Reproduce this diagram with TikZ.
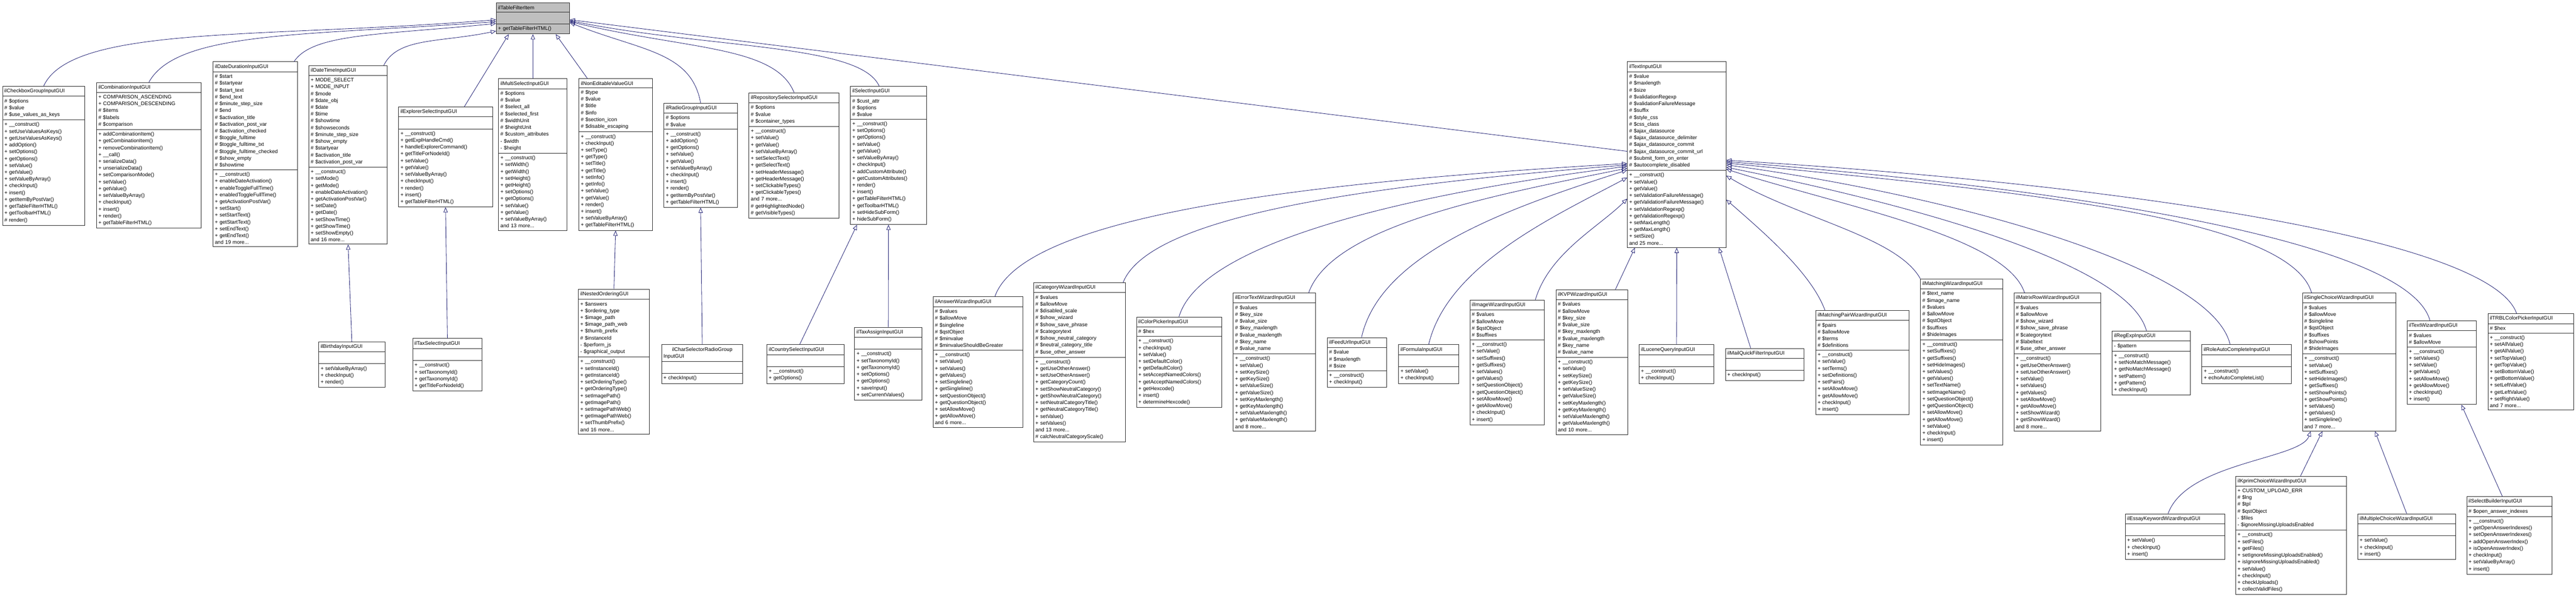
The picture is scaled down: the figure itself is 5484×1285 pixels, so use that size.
\documentclass[tikz,border=0pt]{standalone}
\usepackage{fontspec}
\setmainfont{Liberation Sans}
\usetikzlibrary{shapes.multipart,arrows.meta,calc}
\definecolor{edgeblue}{HTML}{191970}
\definecolor{basegray}{HTML}{BFBFBF}
\newcommand\Mp[1]{+~#1()}
\newcommand\Mh[1]{\#~#1()}
\newcommand\Ah[1]{\#~\$#1}
\newcommand\Ap[1]{+~\$#1}
\newcommand\Am[1]{-~\$#1}
\newcommand\more[1]{and~#1~more...}
\newcommand\ucls[8][]{\node[ucls,text width=#5pt-8pt,#1] (#2) at (#3,#4) {\centering #6\nodepart{two}#7\nodepart{three}#8};}
\begin{document}
\begin{tikzpicture}[x=1pt,y=-1pt,
  ucls/.style={rectangle split,rectangle split parts=3,draw=black!85,line width=1pt,fill=white,
    anchor=north west,font=\fontsize{11}{14.5}\selectfont,inner xsep=4pt,inner ysep=5pt,align=left},
  inh/.style={draw=edgeblue,line width=0.9pt,-{Triangle[open,length=11pt,width=9pt]}}]
\useasboundingbox[fill=white] (0,0) rectangle (5484,1285);
% base
\ucls[fill=basegray]{tfi}{1056}{6}{156}{ilTableFilterItem}{\strut}{\Mp{getTableFilterHTML}}
% row 1
\ucls{cbg}{5}{183}{175}{ilCheckboxGroupInputGUI}{\Ah{options}\\\Ah{value}\\\Ah{use\_values\_as\_keys}}{\Mp{\_\_construct}\\\Mp{setUseValuesAsKeys}\\\Mp{getUseValuesAsKeys}\\\Mp{addOption}\\\Mp{setOptions}\\\Mp{getOptions}\\\Mp{setValue}\\\Mp{getValue}\\\Mp{setValueByArray}\\\Mp{checkInput}\\\Mp{insert}\\\Mp{getItemByPostVar}\\\Mp{getTableFilterHTML}\\\Mp{getToolbarHTML}\\\Mh{render}}
\ucls{comb}{205}{175}{223}{ilCombinationInputGUI}{+~COMPARISON\_ASCENDING\\+~COMPARISON\_DESCENDING\\\Ah{items}\\\Ah{labels}\\\Ah{comparison}}{\Mp{addCombinationItem}\\\Mp{getCombinationItem}\\\Mp{removeCombinationItem}\\\Mp{\_\_call}\\\Mp{serializeData}\\\Mp{unserializeData}\\\Mp{setComparisonMode}\\\Mp{setValue}\\\Mp{getValue}\\\Mp{setValueByArray}\\\Mp{checkInput}\\\Mp{insert}\\\Mp{render}\\\Mp{getTableFilterHTML}}
\ucls{dd}{453}{131}{180}{ilDateDurationInputGUI}{\Ah{start}\\\Ah{startyear}\\\Ah{start\_text}\\\Ah{end\_text}\\\Ah{minute\_step\_size}\\\Ah{end}\\\Ah{activation\_title}\\\Ah{activation\_post\_var}\\\Ah{activation\_checked}\\\Ah{toggle\_fulltime}\\\Ah{toggle\_fulltime\_txt}\\\Ah{toggle\_fulltime\_checked}\\\Ah{show\_empty}\\\Ah{showtime}}{\Mp{\_\_construct}\\\Mp{enableDateActivation}\\\Mp{enableToggleFullTime}\\\Mp{enabledToggleFullTime}\\\Mp{getActivationPostVar}\\\Mp{setStart}\\\Mp{setStartText}\\\Mp{getStartText}\\\Mp{setEndText}\\\Mp{getEndText}\\\more{19}}
\ucls{dt}{657}{139}{167}{ilDateTimeInputGUI}{+~MODE\_SELECT\\+~MODE\_INPUT\\\Ah{mode}\\\Ah{date\_obj}\\\Ah{date}\\\Ah{time}\\\Ah{showtime}\\\Ah{showseconds}\\\Ah{minute\_step\_size}\\\Ah{show\_empty}\\\Ah{startyear}\\\Ah{activation\_title}\\\Ah{activation\_post\_var}}{\Mp{\_\_construct}\\\Mp{setMode}\\\Mp{getMode}\\\Mp{enableDateActivation}\\\Mp{getActivationPostVar}\\\Mp{setDate}\\\Mp{getDate}\\\Mp{setShowTime}\\\Mp{getShowTime}\\\Mp{setShowEmpty}\\\more{16}}
\ucls{exp}{848}{227}{200}{ilExplorerSelectInputGUI}{\strut}{\Mp{\_\_construct}\\\Mp{getExplHandleCmd}\\\Mp{handleExplorerCommand}\\\Mp{getTitleForNodeId}\\\Mp{setValue}\\\Mp{getValue}\\\Mp{setValueByArray}\\\Mp{checkInput}\\\Mp{render}\\\Mp{insert}\\\Mp{getTableFilterHTML}}
\ucls{ms}{1061}{167}{146}{ilMultiSelectInputGUI}{\Ah{options}\\\Ah{value}\\\Ah{select\_all}\\\Ah{selected\_first}\\\Ah{widthUnit}\\\Ah{heightUnit}\\\Ah{custom\_attributes}\\\Am{width}\\\Am{height}}{\Mp{\_\_construct}\\\Mp{setWidth}\\\Mp{getWidth}\\\Mp{setHeight}\\\Mp{getHeight}\\\Mp{setOptions}\\\Mp{getOptions}\\\Mp{setValue}\\\Mp{getValue}\\\Mp{setValueByArray}\\\more{13}}
\ucls{ne}{1232}{167}{156}{ilNonEditableValueGUI}{\Ah{type}\\\Ah{value}\\\Ah{title}\\\Ah{info}\\\Ah{section\_icon}\\\Ah{disable\_escaping}}{\Mp{\_\_construct}\\\Mp{checkInput}\\\Mp{setType}\\\Mp{getType}\\\Mp{setTitle}\\\Mp{getTitle}\\\Mp{setInfo}\\\Mp{getInfo}\\\Mp{setValue}\\\Mp{getValue}\\\Mp{render}\\\Mp{insert}\\\Mp{setValueByArray}\\\Mp{getTableFilterHTML}}
\ucls{rg}{1413}{219}{156}{ilRadioGroupInputGUI}{\Ah{options}\\\Ah{value}}{\Mp{\_\_construct}\\\Mp{addOption}\\\Mp{getOptions}\\\Mp{setValue}\\\Mp{getValue}\\\Mp{setValueByArray}\\\Mp{checkInput}\\\Mp{insert}\\\Mp{render}\\\Mp{getItemByPostVar}\\\Mp{getTableFilterHTML}}
\ucls{rs}{1594}{197}{192}{ilRepositorySelectorInputGUI}{\Ah{options}\\\Ah{value}\\\Ah{container\_types}}{\Mp{\_\_construct}\\\Mp{setValue}\\\Mp{getValue}\\\Mp{setValueByArray}\\\Mp{setSelectText}\\\Mp{getSelectText}\\\Mp{setHeaderMessage}\\\Mp{getHeaderMessage}\\\Mp{setClickableTypes}\\\Mp{getClickableTypes}\\\more{7}\\\Mh{getHighlightedNode}\\\Mh{getVisibleTypes}}
\ucls{sel}{1810}{183}{162}{ilSelectInputGUI}{\Ah{cust\_attr}\\\Ah{options}\\\Ah{value}}{\Mp{\_\_construct}\\\Mp{setOptions}\\\Mp{getOptions}\\\Mp{setValue}\\\Mp{getValue}\\\Mp{setValueByArray}\\\Mp{checkInput}\\\Mp{addCustomAttribute}\\\Mp{getCustomAttributes}\\\Mp{render}\\\Mp{insert}\\\Mp{getTableFilterHTML}\\\Mp{getToolbarHTML}\\\Mp{setHideSubForm}\\\Mp{hideSubForm}}
\ucls{txt}{3464}{131}{210}{ilTextInputGUI}{\Ah{value}\\\Ah{maxlength}\\\Ah{size}\\\Ah{validationRegexp}\\\Ah{validationFailureMessage}\\\Ah{suffix}\\\Ah{style\_css}\\\Ah{css\_class}\\\Ah{ajax\_datasource}\\\Ah{ajax\_datasource\_delimiter}\\\Ah{ajax\_datasource\_commit}\\\Ah{ajax\_datasource\_commit\_url}\\\Ah{submit\_form\_on\_enter}\\\Ah{autocomplete\_disabled}}{\Mp{\_\_construct}\\\Mp{setValue}\\\Mp{getValue}\\\Mp{setValidationFailureMessage}\\\Mp{getValidationFailureMessage}\\\Mp{setValidationRegexp}\\\Mp{getValidationRegexp}\\\Mp{setMaxLength}\\\Mp{getMaxLength}\\\Mp{setSize}\\\more{25}}
% row 1 children
\ucls{bd}{678}{727}{141}{ilBirthdayInputGUI}{\strut}{\Mp{setValueByArray}\\\Mp{checkInput}\\\Mp{render}}
\ucls{ts}{878}{720}{148}{ilTaxSelectInputGUI}{\strut}{\Mp{\_\_construct}\\\Mp{setTaxonomyId}\\\Mp{getTaxonomyId}\\\Mp{getTitleForNodeId}}
\ucls{no}{1231}{615}{151}{ilNestedOrderingGUI}{\Ap{answers}\\\Ap{ordering\_type}\\\Ap{image\_path}\\\Ap{image\_path\_web}\\\Ap{thumb\_prefix}\\\Ah{instanceId}\\\Am{perform\_js}\\\Am{graphical\_output}}{\Mp{\_\_construct}\\\Mp{setInstanceId}\\\Mp{getInstanceId}\\\Mp{setOrderingType}\\\Mp{getOrderingType}\\\Mp{setImagePath}\\\Mp{getImagePath}\\\Mp{setImagePathWeb}\\\Mp{getImagePathWeb}\\\Mp{setThumbPrefix}\\\more{16}}
\ucls{cs}{1408}{733}{173}{ilCharSelectorRadioGroup\\InputGUI}{\strut}{\Mp{checkInput}}
\ucls{cy}{1632}{733}{164}{ilCountrySelectInputGUI}{\strut}{\Mp{\_\_construct}\\\Mp{getOptions}}
\ucls{ta}{1819}{696}{143}{ilTaxAssignInputGUI}{\strut}{\Mp{\_\_construct}\\\Mp{setTaxonomyId}\\\Mp{getTaxonomyId}\\\Mp{setOptions}\\\Mp{getOptions}\\\Mp{saveInput}\\\Mp{setCurrentValues}}
% row 2 (text input children)
\ucls{aw}{1986}{631}{191}{ilAnswerWizardInputGUI}{\Ah{values}\\\Ah{allowMove}\\\Ah{singleline}\\\Ah{qstObject}\\\Ah{minvalue}\\\Ah{minvalueShouldBeGreater}}{\Mp{\_\_construct}\\\Mp{setValue}\\\Mp{setValues}\\\Mp{getValues}\\\Mp{setSingleline}\\\Mp{getSingleline}\\\Mp{setQuestionObject}\\\Mp{getQuestionObject}\\\Mp{setAllowMove}\\\Mp{getAllowMove}\\\more{6}}
\ucls{cw}{2200}{601}{195}{ilCategoryWizardInputGUI}{\Ah{values}\\\Ah{allowMove}\\\Ah{disabled\_scale}\\\Ah{show\_wizard}\\\Ah{show\_save\_phrase}\\\Ah{categorytext}\\\Ah{show\_neutral\_category}\\\Ah{neutral\_category\_title}\\\Ah{use\_other\_answer}}{\Mp{\_\_construct}\\\Mp{getUseOtherAnswer}\\\Mp{setUseOtherAnswer}\\\Mp{getCategoryCount}\\\Mp{setShowNeutralCategory}\\\Mp{getShowNeutralCategory}\\\Mp{setNeutralCategoryTitle}\\\Mp{getNeutralCategoryTitle}\\\Mp{setValue}\\\Mp{setValues}\\\more{13}\\\Mh{calcNeutralCategoryScale}}
\ucls{cp}{2419}{674}{181}{ilColorPickerInputGUI}{\Ah{hex}}{\Mp{\_\_construct}\\\Mp{checkInput}\\\Mp{setValue}\\\Mp{setDefaultColor}\\\Mp{getDefaultColor}\\\Mp{setAcceptNamedColors}\\\Mp{getAcceptNamedColors}\\\Mp{getHexcode}\\\Mp{insert}\\\Mp{determineHexcode}}
\ucls{et}{2625}{623}{175}{ilErrorTextWizardInputGUI}{\Ah{values}\\\Ah{key\_size}\\\Ah{value\_size}\\\Ah{key\_maxlength}\\\Ah{value\_maxlength}\\\Ah{key\_name}\\\Ah{value\_name}}{\Mp{\_\_construct}\\\Mp{setValue}\\\Mp{setKeySize}\\\Mp{getKeySize}\\\Mp{setValueSize}\\\Mp{getValueSize}\\\Mp{setKeyMaxlength}\\\Mp{getKeyMaxlength}\\\Mp{setValueMaxlength}\\\Mp{getValueMaxlength}\\\more{8}}
\ucls{fu}{2825}{718}{126}{ilFeedUrlInputGUI}{\Ah{value}\\\Ah{maxlength}\\\Ah{size}}{\Mp{\_\_construct}\\\Mp{checkInput}}
\ucls{fo}{2977}{733}{128}{ilFormulaInputGUI}{\strut}{\Mp{setValue}\\\Mp{checkInput}}
\ucls{iw}{3129}{638}{158}{ilImageWizardInputGUI}{\Ah{values}\\\Ah{allowMove}\\\Ah{qstObject}\\\Ah{suffixes}}{\Mp{\_\_construct}\\\Mp{setValue}\\\Mp{setSuffixes}\\\Mp{getSuffixes}\\\Mp{setValues}\\\Mp{getValues}\\\Mp{setQuestionObject}\\\Mp{getQuestionObject}\\\Mp{setAllowMove}\\\Mp{getAllowMove}\\\Mp{checkInput}\\\Mp{insert}}
\ucls{kvp}{3312}{616}{153}{ilKVPWizardInputGUI}{\Ah{values}\\\Ah{allowMove}\\\Ah{key\_size}\\\Ah{value\_size}\\\Ah{key\_maxlength}\\\Ah{value\_maxlength}\\\Ah{key\_name}\\\Ah{value\_name}}{\Mp{\_\_construct}\\\Mp{setValue}\\\Mp{setKeySize}\\\Mp{getKeySize}\\\Mp{setValueSize}\\\Mp{getValueSize}\\\Mp{setKeyMaxlength}\\\Mp{getKeyMaxlength}\\\Mp{setValueMaxlength}\\\Mp{getValueMaxlength}\\\more{10}}
\ucls{lq}{3489}{733}{159}{ilLuceneQueryInputGUI}{\strut}{\Mp{\_\_construct}\\\Mp{checkInput}}
\ucls{mq}{3673}{741}{167}{ilMailQuickFilterInputGUI}{\strut}{\Mp{checkInput}}
\ucls{mp}{3865}{660}{199}{ilMatchingPairWizardInputGUI}{\Ah{pairs}\\\Ah{allowMove}\\\Ah{terms}\\\Ah{definitions}}{\Mp{\_\_construct}\\\Mp{setValue}\\\Mp{setTerms}\\\Mp{setDefinitions}\\\Mp{setPairs}\\\Mp{setAllowMove}\\\Mp{getAllowMove}\\\Mp{checkInput}\\\Mp{insert}}
\ucls{mw}{4088}{593}{175}{ilMatchingWizardInputGUI}{\Ah{text\_name}\\\Ah{image\_name}\\\Ah{values}\\\Ah{allowMove}\\\Ah{qstObject}\\\Ah{suffixes}\\\Ah{hideImages}}{\Mp{\_\_construct}\\\Mp{setSuffixes}\\\Mp{getSuffixes}\\\Mp{setHideImages}\\\Mp{setValues}\\\Mp{getValues}\\\Mp{setTextName}\\\Mp{setImageName}\\\Mp{setQuestionObject}\\\Mp{getQuestionObject}\\\Mp{setAllowMove}\\\Mp{getAllowMove}\\\Mp{setValue}\\\Mp{checkInput}\\\Mp{insert}}
\ucls{mr}{4287}{623}{185}{ilMatrixRowWizardInputGUI}{\Ah{values}\\\Ah{allowMove}\\\Ah{show\_wizard}\\\Ah{show\_save\_phrase}\\\Ah{categorytext}\\\Ah{labeltext}\\\Ah{use\_other\_answer}}{\Mp{\_\_construct}\\\Mp{getUseOtherAnswer}\\\Mp{setUseOtherAnswer}\\\Mp{setValue}\\\Mp{setValues}\\\Mp{getValues}\\\Mp{setAllowMove}\\\Mp{getAllowMove}\\\Mp{setShowWizard}\\\Mp{getShowWizard}\\\more{8}}
\ucls{re}{4496}{704}{166}{ilRegExpInputGUI}{\Am{pattern}}{\Mp{\_\_construct}\\\Mp{setNoMatchMessage}\\\Mp{getNoMatchMessage}\\\Mp{setPattern}\\\Mp{getPattern}\\\Mp{checkInput}}
\ucls{ra}{4687}{733}{190}{ilRoleAutoCompleteInputGUI}{\strut}{\Mp{\_\_construct}\\\Mp{echoAutoCompleteList}}
\ucls{sc}{4901}{623}{199}{ilSingleChoiceWizardInputGUI}{\Ah{values}\\\Ah{allowMove}\\\Ah{singleline}\\\Ah{qstObject}\\\Ah{suffixes}\\\Ah{showPoints}\\\Ah{hideImages}}{\Mp{\_\_construct}\\\Mp{setValue}\\\Mp{setSuffixes}\\\Mp{setHideImages}\\\Mp{getSuffixes}\\\Mp{setShowPoints}\\\Mp{getShowPoints}\\\Mp{setValues}\\\Mp{getValues}\\\Mp{setSingleline}\\\more{7}}
\ucls{tw}{5124}{682}{147}{ilTextWizardInputGUI}{\Ah{values}\\\Ah{allowMove}}{\Mp{\_\_construct}\\\Mp{setValues}\\\Mp{setValue}\\\Mp{getValues}\\\Mp{setAllowMove}\\\Mp{getAllowMove}\\\Mp{checkInput}\\\Mp{insert}}
\ucls{trbl}{5296}{667}{182}{ilTRBLColorPickerInputGUI}{\Ah{hex}}{\Mp{\_\_construct}\\\Mp{setAllValue}\\\Mp{getAllValue}\\\Mp{setTopValue}\\\Mp{getTopValue}\\\Mp{setBottomValue}\\\Mp{getBottomValue}\\\Mp{setLeftValue}\\\Mp{getLeftValue}\\\Mp{setRightValue}\\\more{7}}
% row 3
\ucls{ek}{4524}{1093}{212}{ilEssayKeywordWizardInputGUI}{\strut}{\Mp{setValue}\\\Mp{checkInput}\\\Mp{insert}}
\ucls{kp}{4759}{1013}{236}{ilKprimChoiceWizardInputGUI}{+~CUSTOM\_UPLOAD\_ERR\\\Ah{lng}\\\Ah{tpl}\\\Ah{qstObject}\\\Am{files}\\\Am{ignoreMissingUploadsEnabled}}{\Mp{\_\_construct}\\\Mp{setFiles}\\\Mp{getFiles}\\\Mp{setIgnoreMissingUploadsEnabled}\\\Mp{isIgnoreMissingUploadsEnabled}\\\Mp{setValue}\\\Mp{checkInput}\\\Mp{checkUploads}\\\Mp{collectValidFiles}}
\ucls{mc}{5019}{1093}{208}{ilMultipleChoiceWizardInputGUI}{\strut}{\Mp{setValue}\\\Mp{checkInput}\\\Mp{insert}}
\ucls{sb}{5251}{1056}{181}{ilSelectBuilderInputGUI}{\Ah{open\_answer\_indexes}}{\Mp{\_\_construct}\\\Mp{getOpenAnswerIndexes}\\\Mp{setOpenAnswerIndexes}\\\Mp{addOpenAnswerIndex}\\\Mp{isOpenAnswerIndex}\\\Mp{checkInput}\\\Mp{setValueByArray}\\\Mp{insert}}
% edges to ilTableFilterItem
\draw[inh] (cbg.north) .. controls +(60,-130) and +(-500,40) .. ($(tfi.north west)+(0,36)$);
\draw[inh] (comb.north) .. controls +(60,-110) and +(-400,30) .. ($(tfi.north west)+(0,40)$);
\draw[inh] ([xshift=-8pt]dd.north east) .. controls +(40,-60) and +(-250,25) .. ($(tfi.north west)+(0,44)$);
\draw[inh] ([xshift=-8pt]dt.north east) .. controls +(30,-60) and +(-120,25) .. ($(tfi.north west)+(0,60)$);
\draw[inh] ([xshift=40pt]exp.north) -- ($(tfi.south west)+(27,0)$);
\draw[inh] (ms.north) -- (tfi.south);
\draw[inh] ([xshift=-60pt]ne.north) -- ($(tfi.south east)+(-30,0)$);
\draw[inh] (rg.north) .. controls +(-20,-110) and +(150,60) .. ($(tfi.north east)+(0,42)$);
\draw[inh] (rs.north) .. controls +(-40,-100) and +(250,60) .. ($(tfi.north east)+(0,40)$);
\draw[inh] ([xshift=-20pt]sel.north) .. controls +(-40,-90) and +(300,60) .. ($(tfi.north east)+(0,38)$);
\draw[inh] ($(txt.north west)+(0,191)$) -- ($(tfi.north east)+(0,36)$);
% row 1 children
\draw[inh] (bd.north) -- (dt.south);
\draw[inh] (ts.north) -- (exp.south);
\draw[inh] (no.north) -- (ne.south);
\draw[inh] (cs.north) -- (rg.south);
\draw[inh] ([xshift=-12pt]cy.north) -- ([xshift=-67pt]sel.south);
\draw[inh] (ta.north) -- (sel.south);
% edges to ilTextInputGUI
\draw[inh] ([xshift=-60pt]aw.north east) .. controls +(60,-170) and +(-700,40) .. ($(txt.north west)+(0,217)$);
\draw[inh] ([xshift=-5pt]cw.north east) .. controls +(60,-150) and +(-500,40) .. ($(txt.north west)+(0,220)$);
\draw[inh] (cp.north) .. controls +(50,-170) and +(-400,50) .. ($(txt.north west)+(0,223)$);
\draw[inh] ([xshift=-15pt]et.north east) .. controls +(50,-140) and +(-300,60) .. ($(txt.north west)+(0,227)$);
\draw[inh] ([xshift=10pt]fu.north) .. controls +(40,-180) and +(-250,80) .. ($(txt.north west)+(0,231)$);
\draw[inh] (fo.north) .. controls +(40,-170) and +(-150,80) .. ($(txt.north west)+(0,247)$);
\draw[inh] ([xshift=60pt]iw.north) .. controls +(30,-100) and +(-60,60) .. ($(txt.north west)+(0,292)$);
\draw[inh] ([xshift=50pt]kvp.north) -- ($(txt.south)+(-89,0)$);
\draw[inh] (lq.north) -- (txt.south);
\draw[inh] ([xshift=-30pt]mq.north) -- ($(txt.south)+(90,0)$);
\draw[inh] ([xshift=-80pt]mp.north) .. controls +(-30,-80) and +(80,70) .. ($(txt.north east)+(0,294)$);
\draw[inh] (mw.north west) .. controls +(-50,-90) and +(150,90) .. ($(txt.north east)+(0,243)$);
\draw[inh] ([xshift=-70pt]mr.north) .. controls +(-40,-120) and +(250,80) .. ($(txt.north east)+(0,229)$);
\draw[inh] ([xshift=-10pt]re.north) .. controls +(-40,-150) and +(350,70) .. ($(txt.north east)+(0,225)$);
\draw[inh] ([xshift=-35pt]ra.north) .. controls +(-40,-170) and +(450,60) .. ($(txt.north east)+(0,220)$);
\draw[inh] ([xshift=-80pt]sc.north) .. controls +(-50,-170) and +(550,55) .. ($(txt.north east)+(0,216)$);
\draw[inh] ([xshift=-25pt]tw.north) .. controls +(-50,-180) and +(650,50) .. ($(txt.north east)+(0,213)$);
\draw[inh] ([xshift=-30pt]trbl.north) .. controls +(-60,-170) and +(750,45) .. ($(txt.north east)+(0,210)$);
% row 3
\draw[inh] ([xshift=-15pt]ek.north) .. controls +(40,-110) and +(-20,60) .. ($(sc.south west)+(18,0)$);
\draw[inh] ([xshift=20pt]kp.north) -- ($(sc.south west)+(43,0)$);
\draw[inh] (mc.north) -- ($(sc.south west)+(155,0)$);
\draw[inh] ([xshift=-15pt]sb.north) -- ($(tw.south)+(42,0)$);
\end{tikzpicture}
\end{document}
